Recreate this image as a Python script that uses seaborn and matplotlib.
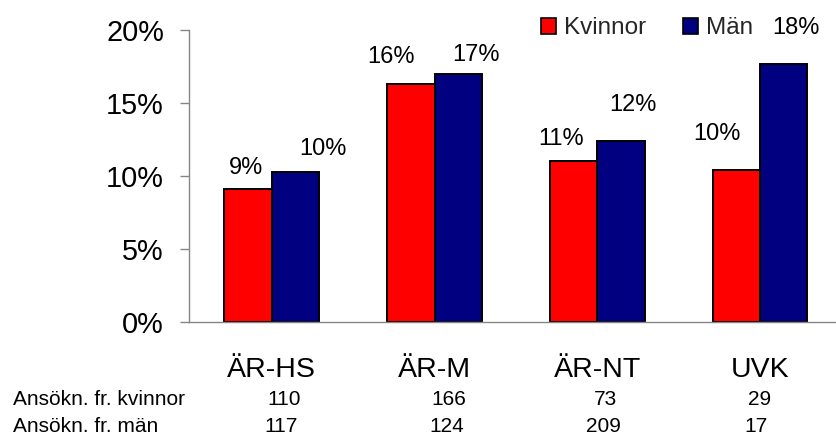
import matplotlib
matplotlib.use("Agg")
import matplotlib.pyplot as plt
from matplotlib.patches import Patch
from matplotlib.transforms import blended_transform_factory
import seaborn as sns
import pandas as pd

# Andel (%) per utbildning och kön
categories = ["ÄR-HS", "ÄR-M", "ÄR-NT", "UVK"]
kvinnor = [9.1, 16.3, 11.0, 10.4]
man = [10.3, 17.0, 12.4, 17.7]
series_names = ["Kvinnor", "Män"]

# Antal ansökningar per utbildning
row_labels = ["Ansökn. fr. kvinnor", "Ansökn. fr. män"]
ansokn_kvinnor = ["110", "166", "73", "29"]
ansokn_man = ["117", "124", "209", "17"]

yticks = [0, 5, 10, 15, 20]

df = pd.DataFrame({
    "Utbildning": categories * 2,
    "Kön": [series_names[0]] * len(categories) + [series_names[1]] * len(categories),
    "Andel": kvinnor + man,
})

sns.set_theme(style="white")
plt.rcParams["font.family"] = ["Liberation Sans", "DejaVu Sans"]

colors = {"Kvinnor": "#FF0000", "Män": "#000080"}
gray = "#868686"

fig = plt.figure(figsize=(8.37, 4.37), dpi=100)
ax = fig.add_axes([189 / 837, 1 - 322 / 437, 648 / 837, 292 / 437])

sns.barplot(
    data=df, x="Utbildning", y="Andel", hue="Kön", hue_order=series_names,
    order=categories, palette=colors, width=0.582, gap=0, dodge=True,
    edgecolor="black", linewidth=1.4, saturation=1, legend=False, ax=ax,
)

ax.set_xlim(-0.509, 3.474)
ax.set_ylim(0, 20)
ax.set_yticks(yticks)
ax.set_yticklabels([f"{t}%" for t in yticks])
ax.set_xlabel("")
ax.set_ylabel("")

for side in ("top", "right"):
    ax.spines[side].set_visible(False)
for side in ("left", "bottom"):
    ax.spines[side].set_color(gray)
    ax.spines[side].set_linewidth(1.0)

ax.tick_params(axis="y", direction="out", length=6.5, width=1.0, color=gray,
               pad=11.5, labelsize=20.8, labelcolor="black", left=True)
ax.tick_params(axis="x", length=0, pad=39.4, labelsize=20.5, labelcolor="black")
for lab in ax.get_xticklabels():
    lab.set_verticalalignment("baseline")

# Etiketter ovanför staplarna (förskjutning i pixlar från stapelns topp)
label_dx = [[-2.5, -19.4, -12.0, -19.3], [27.0, 18.0, 12.3, 12.0]]
label_dy = [[24.0, 29.3, 24.7, 39.0], [24.7, 21.3, 38.0, 38.3]]
for s, (cont, vals) in enumerate(zip(ax.containers, [kvinnor, man])):
    for i, (bar, v) in enumerate(zip(cont, vals)):
        cx = bar.get_x() + bar.get_width() / 2
        ax.annotate(f"{v:.0f}%", xy=(cx, v), xytext=(label_dx[s][i], label_dy[s][i] - 8.5),
                    textcoords="offset pixels", ha="center", va="baseline",
                    fontsize=17, color="black")

# Förklaring
handles = [Patch(facecolor=colors[n], edgecolor="black", linewidth=1.2, label=n)
           for n in series_names]
fig.legend(handles=handles, loc="center left", bbox_to_anchor=(541 / 837, 1 - 28.5 / 437),
           ncol=2, frameon=False, fontsize=17.5, handlelength=0.62, handleheight=0.62,
           handletextpad=0.34, columnspacing=1.5, borderpad=0, borderaxespad=0)

# Tabell med antal ansökningar
trans = blended_transform_factory(ax.transData, fig.transFigure)
row_y = [1 - 405 / 437, 1 - 432 / 437]
row_dx = [[0.074, 0.086, 0.05, 0.0], [0.056, 0.074, 0.037, -0.025]]
for r, (lab, vals) in enumerate(zip(row_labels, [ansokn_kvinnor, ansokn_man])):
    fig.text(13 / 837, row_y[r], lab, ha="left", va="baseline", fontsize=15, color="black")
    for i, v in enumerate(vals):
        ax.text(i + row_dx[r][i], row_y[r], v, transform=trans, ha="center",
                va="baseline", fontsize=15, color="black", clip_on=False)

fig.savefig("out.png", dpi=100)
